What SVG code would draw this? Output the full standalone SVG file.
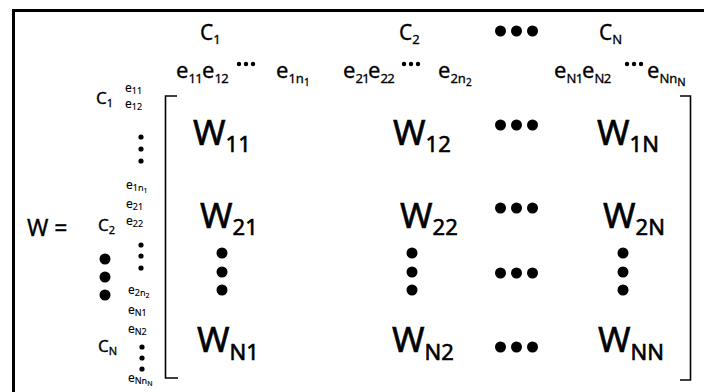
<svg xmlns="http://www.w3.org/2000/svg" width="704" height="392" viewBox="0 0 704 392">
<style>
text{font-family:"Noto Sans","DejaVu Sans",sans-serif;fill:#000;stroke:#000;stroke-width:0.3}
.hc{font-size:21px}
.hs{font-size:13px}
.he{font-size:22px}
.ls{font-size:12px;stroke-width:0.15}
.lss{font-size:9px}
.lc{font-size:17px}
.wb{font-size:35px;stroke-width:0.6}
.ws{font-size:22px}
.ln{fill:none;stroke:#000}
.dot{fill:#000}
</style>
<rect width="704" height="392" fill="#fff"/>
<g id="frame">
<path class="ln" d="M12,10.5H704M13.5,10V392" stroke-width="3"/>
</g>
<g id="brackets">
<path class="ln" d="M177,96H165.5V378H178" stroke-width="1.6"/>
<path class="ln" d="M680,96H690.5V380H680" stroke-width="1.6"/>
</g>
<g id="top-headers">
<text class="hc" x="200" y="40">C<tspan class="hs" dy="4">1</tspan></text>
<text class="hc" x="399" y="40">C<tspan class="hs" dy="4">2</tspan></text>
<circle class="dot" cx="500.5" cy="31" r="5.5"/><circle class="dot" cx="516.5" cy="31" r="5.5"/><circle class="dot" cx="532.5" cy="31" r="5.5"/>
<text class="hc" x="599" y="40">C<tspan class="hs" dy="4">N</tspan></text>
<text class="he" x="176" y="78">e<tspan class="hs" dy="5" letter-spacing="-0.5">11</tspan></text>
<text class="he" x="202" y="78">e<tspan class="hs" dy="5" letter-spacing="-0.5">12</tspan></text>
<circle class="dot" cx="239" cy="64" r="2.2"/><circle class="dot" cx="246" cy="64" r="2.2"/><circle class="dot" cx="253" cy="64" r="2.2"/>
<text class="he" x="276" y="78">e<tspan class="hs" dy="5">1n</tspan><tspan style="font-size:10px" dy="3">1</tspan></text>
<text class="he" x="343" y="78">e<tspan class="hs" dy="5" letter-spacing="-0.5">21</tspan></text>
<text class="he" x="368" y="78">e<tspan class="hs" dy="5" letter-spacing="-0.5">22</tspan></text>
<circle class="dot" cx="404" cy="64" r="2.2"/><circle class="dot" cx="411" cy="64" r="2.2"/><circle class="dot" cx="418" cy="64" r="2.2"/>
<text class="he" x="438" y="78">e<tspan class="hs" dy="5">2n</tspan><tspan style="font-size:10px" dy="3">2</tspan></text>
<text class="he" x="554" y="78">e<tspan class="hs" dy="5" letter-spacing="-0.5">N1</tspan></text>
<text class="he" x="582" y="78">e<tspan class="hs" dy="5" letter-spacing="-0.5">N2</tspan></text>
<circle class="dot" cx="627" cy="64" r="2.2"/><circle class="dot" cx="634" cy="64" r="2.2"/><circle class="dot" cx="641" cy="64" r="2.2"/>
<text class="he" x="647" y="78">e<tspan class="hs" dy="5">Nn</tspan><tspan style="font-size:11px" dy="3">N</tspan></text>
</g>
<g id="left-labels">
<text style="font-size:23px" x="27" y="236">W =</text>
<text class="lc" x="96" y="104">C<tspan style="font-size:11px" dy="3">1</tspan></text>
<text class="lc" x="98" y="231">C<tspan style="font-size:11px" dy="3">2</tspan></text>
<text class="lc" x="98" y="352">C<tspan style="font-size:11px" dy="3">N</tspan></text>
<circle class="dot" cx="105" cy="259" r="5.5"/><circle class="dot" cx="105" cy="277" r="5.5"/><circle class="dot" cx="105" cy="295" r="5.5"/>
<text class="ls" x="125" y="92">e<tspan class="lss" dy="2">11</tspan></text>
<text class="ls" x="125" y="108">e<tspan class="lss" dy="2">12</tspan></text>
<circle class="dot" cx="141" cy="137" r="2.6"/><circle class="dot" cx="141" cy="149" r="2.6"/><circle class="dot" cx="141" cy="161" r="2.6"/>
<text class="ls" x="126" y="189">e<tspan class="lss" dy="2">1n</tspan><tspan style="font-size:7px" dy="2">1</tspan></text>
<text class="ls" x="126" y="208">e<tspan class="lss" dy="2">21</tspan></text>
<text class="ls" x="126" y="225">e<tspan class="lss" dy="2">22</tspan></text>
<circle class="dot" cx="141" cy="245" r="2.6"/><circle class="dot" cx="141" cy="256" r="2.6"/><circle class="dot" cx="141" cy="268" r="2.6"/>
<text class="ls" x="128" y="294">e<tspan class="lss" dy="2">2n</tspan><tspan style="font-size:7px" dy="2">2</tspan></text>
<text class="ls" x="128" y="314">e<tspan class="lss" dy="2">N1</tspan></text>
<text class="ls" x="128" y="333">e<tspan class="lss" dy="2">N2</tspan></text>
<circle class="dot" cx="142" cy="347" r="2.6"/><circle class="dot" cx="142" cy="358" r="2.6"/><circle class="dot" cx="142" cy="369" r="2.6"/>
<text class="ls" x="128" y="382">e<tspan class="lss" dy="2">Nn</tspan><tspan style="font-size:7px" dy="2">N</tspan></text>
</g>
<g id="W11"><text class="wb" x="193" y="145">W<tspan class="ws" dy="7">11</tspan></text></g>
<g id="W12"><text class="wb" x="393" y="145">W<tspan class="ws" dy="7">12</tspan></text></g>
<g id="W1N"><text class="wb" x="597" y="145">W<tspan class="ws" dy="7">1N</tspan></text></g>
<g id="W21"><text class="wb" x="200" y="228">W<tspan class="ws" dy="7">21</tspan></text></g>
<g id="W22"><text class="wb" x="400" y="228">W<tspan class="ws" dy="7">22</tspan></text></g>
<g id="W2N"><text class="wb" x="603" y="228">W<tspan class="ws" dy="7">2N</tspan></text></g>
<g id="WN1"><text class="wb" x="197" y="352">W<tspan class="ws" dy="8">N1</tspan></text></g>
<g id="WN2"><text class="wb" x="392" y="352">W<tspan class="ws" dy="8">N2</tspan></text></g>
<g id="WNN"><text class="wb" x="598" y="352">W<tspan class="ws" dy="8">NN</tspan></text></g>
<g id="ellipses">
<circle class="dot" cx="500.5" cy="125" r="5.5"/><circle class="dot" cx="516.5" cy="125" r="5.5"/><circle class="dot" cx="532.5" cy="125" r="5.5"/>
<circle class="dot" cx="500.5" cy="208" r="5.5"/><circle class="dot" cx="516.5" cy="208" r="5.5"/><circle class="dot" cx="532.5" cy="208" r="5.5"/>
<circle class="dot" cx="500.5" cy="273" r="5.5"/><circle class="dot" cx="516.5" cy="273" r="5.5"/><circle class="dot" cx="532.5" cy="273" r="5.5"/>
<circle class="dot" cx="500.5" cy="347" r="5.5"/><circle class="dot" cx="516.5" cy="347" r="5.5"/><circle class="dot" cx="532.5" cy="347" r="5.5"/>
<circle class="dot" cx="222" cy="253" r="5.5"/><circle class="dot" cx="222" cy="272" r="5.5"/><circle class="dot" cx="222" cy="290" r="5.5"/>
<circle class="dot" cx="412" cy="253" r="5.5"/><circle class="dot" cx="412" cy="272" r="5.5"/><circle class="dot" cx="412" cy="290" r="5.5"/>
<circle class="dot" cx="623" cy="253" r="5.5"/><circle class="dot" cx="623" cy="272" r="5.5"/><circle class="dot" cx="623" cy="290" r="5.5"/>
</g>
</svg>
